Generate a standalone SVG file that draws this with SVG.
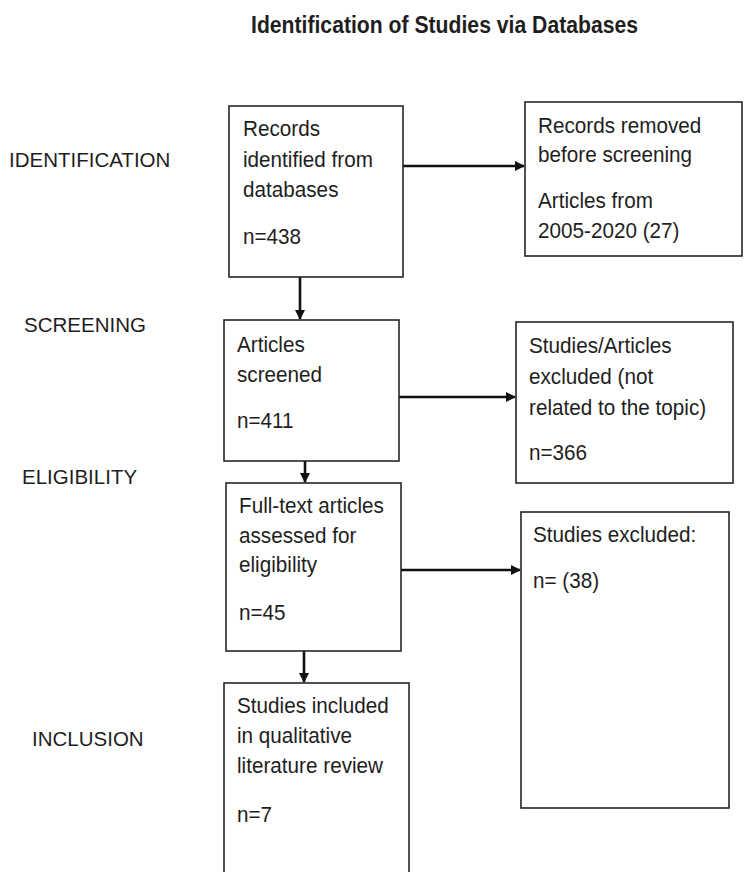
<svg xmlns="http://www.w3.org/2000/svg" width="747" height="872" viewBox="0 0 747 872">
<defs>
<style>
.box{fill:#fff;stroke:#262626;stroke-width:1.6}
.t{font-family:"Liberation Sans",Arial,sans-serif;font-size:22.5px;fill:#1e1e1e;transform-box:fill-box;transform-origin:0 0;transform:scaleX(0.92)}
.lab{font-family:"Liberation Sans",Arial,sans-serif;font-size:20.5px;fill:#1e1e1e}
.title{font-family:"Liberation Sans",Arial,sans-serif;font-size:23px;font-weight:bold;fill:#1e1e1e}
.c{stroke:#111;stroke-width:2.6;fill:none;marker-end:url(#ah)}
</style>
<marker id="ah" markerWidth="4" markerHeight="4" refX="3.6" refY="2" orient="auto" markerUnits="strokeWidth">
<path d="M0,0 L4,2 L0,4 Z" fill="#111"/>
</marker>
</defs>
<rect width="747" height="872" fill="#fff"/>
<text class="title" x="251" y="33" textLength="387" lengthAdjust="spacingAndGlyphs">Identification of Studies via Databases</text>
<g id="stage-labels">
<text class="lab" x="9" y="167">IDENTIFICATION</text>
<text class="lab" x="24" y="332">SCREENING</text>
<text class="lab" x="22" y="484">ELIGIBILITY</text>
<text class="lab" x="32" y="746">INCLUSION</text>
</g>
<g id="connectors">
<line class="c" x1="403" y1="166" x2="524" y2="166"/>
<line class="c" x1="300" y1="249" x2="300" y2="319"/>
<line class="c" x1="399" y1="397" x2="515" y2="397"/>
<line class="c" x1="305" y1="427" x2="305" y2="482"/>
<line class="c" x1="401" y1="570" x2="520" y2="570"/>
<line class="c" x1="304" y1="635" x2="304" y2="682"/>
</g>
<g id="records-identified">
<rect class="box" x="229" y="106" width="174" height="171"/>
<text class="t" x="243" y="136">Records</text>
<text class="t" x="243" y="167">identified from</text>
<text class="t" x="243" y="197">databases</text>
<text class="t" x="243" y="244">n=438</text>
</g>
<g id="records-removed">
<rect class="box" x="525" y="102" width="217" height="154"/>
<text class="t" x="538" y="133">Records removed</text>
<text class="t" x="538" y="162">before screening</text>
<text class="t" x="538" y="208">Articles from</text>
<text class="t" x="538" y="238">2005-2020 (27)</text>
</g>
<g id="articles-screened">
<rect class="box" x="224" y="320" width="175" height="141"/>
<text class="t" x="237" y="352">Articles</text>
<text class="t" x="237" y="382">screened</text>
<text class="t" x="237" y="428">n=411</text>
</g>
<g id="studies-articles-excluded">
<rect class="box" x="516" y="322" width="217" height="161"/>
<text class="t" x="529" y="353">Studies/Articles</text>
<text class="t" x="529" y="384">excluded (not</text>
<text class="t" x="529" y="415">related to the topic)</text>
<text class="t" x="529" y="460">n=366</text>
</g>
<g id="full-text-assessed">
<rect class="box" x="226" y="483" width="175" height="168"/>
<text class="t" x="239" y="513">Full-text articles</text>
<text class="t" x="239" y="543">assessed for</text>
<text class="t" x="239" y="572">eligibility</text>
<text class="t" x="239" y="620">n=45</text>
</g>
<g id="studies-excluded">
<rect class="box" x="521" y="512" width="208" height="296"/>
<text class="t" x="533" y="542">Studies excluded:</text>
<text class="t" x="533" y="588">n= (38)</text>
</g>
<g id="studies-included">
<rect class="box" x="224" y="683" width="185" height="200"/>
<text class="t" x="237" y="713">Studies included</text>
<text class="t" x="237" y="743">in qualitative</text>
<text class="t" x="237" y="773">literature review</text>
<text class="t" x="237" y="822">n=7</text>
</g>
</svg>
